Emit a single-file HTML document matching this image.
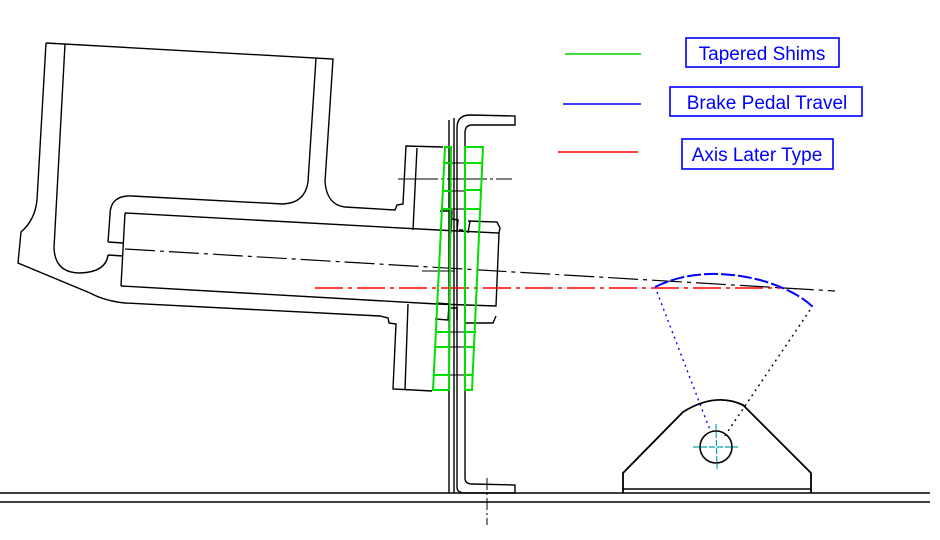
<!DOCTYPE html>
<html><head><meta charset="utf-8"><style>
html,body{margin:0;padding:0;background:#fff;}
svg{display:block;}
text{font-family:"Liberation Sans",sans-serif;font-size:19px;fill:#0000ff;}
</style></head><body>
<svg width="940" height="540" viewBox="0 0 940 540" xmlns="http://www.w3.org/2000/svg">
<rect width="940" height="540" fill="#fff"/>
<g fill="none" stroke="#000" stroke-width="1.4">
<path d="M46,43 L333,59 L325,182 Q327,205 345,207 L395,210 L397,205 L403,204 L406,146 L443,147"/>
<path d="M46,43 L37,200 Q35,220 21,232 L18,263 L90,293 Q105,301 125,303 L380,316 L388,318 L389,323 L396,324 L393,389 L432,391"/>
<path d="M316,58 L308,182 Q305,203 283,204 L132,196 Q110,195 110,215 L108,242"/>
<path d="M65,44 L54,248 Q55,273 80,273 Q106,272 108,255"/>
<path d="M108,242 L123,243 M108,255 L123,256"/>
<path d="M125,213 L438,230 M121,286 L437,304 M125,213 L121,286"/>
<path d="M417,148 L413,230 M408,304 L405,390"/>
<path d="M438,230 L499,233 L496,306 L437,304"/>
<path d="M468,221 L497,222 L500,228 L499,233 M465,306 L465,323 L493,323 L496,316"/>
<path d="M470,221 L468,233"/>
<path d="M440,211 L452,211 L451,233 M436,303 L449,304 L448,320 L435,319"/>
<path d="M452,219 L458,220 L457,231 M459,230 L463,230 M451,308 L457,308 L457,320"/>
<path d="M449,120 L449,493 M454,118 L454,493"/>
<path d="M457,487 L457,128 Q457,115 470,115 L515,116 L515,125 L472,125 Q465,125 465,133 L465,478 Q465,484 472,484 L515,485 L515,493 L465,493 Q457,493 457,487"/>
<path d="M0,493 L930,493 M0,502 L930,502" stroke-width="1.6"/>
<path d="M487,478 L487,525" stroke-width="1" stroke-dasharray="12,3,2,3"/>
<path d="M450,163 L466,163 M450,191 L466,191 M450,209 L466,209 M450,332 L466,332 M450,347 L466,347 M450,375 L466,375" stroke-width="1"/>
<path d="M398,179 L512,179" stroke-width="1" stroke-dasharray="40,3,3,3"/>
<path d="M422,271 L455,271" stroke-width="1"/>
<path d="M125,249 L835,291" stroke-width="1.2" stroke-dasharray="30,5,4,5"/>
<path d="M623,493 L623,473 L683,412 Q715,392 743,405 L811,473 L811,493" stroke-width="1.8"/>
<path d="M623,489 L811,489" stroke-width="1.6"/>
<circle cx="716" cy="447" r="16" stroke-width="1.6"/>
</g>
<path d="M315,288 L782,288" stroke="#ff0000" stroke-width="1.6" stroke-dasharray="28,5,4,5" fill="none"/>
<g fill="none" stroke="#00e000" stroke-width="2">
<path d="M445,147 L451,147 L449,390 L433,390 Z"/>
<path d="M465,147 L483,147 L472,390 L465,390 Z"/>
<path d="M444,163 L450,163 M443,191 L450,191 M442,209 L450,209 M437,332 L449,332 M436,347 L449,347 M434,375 L449,375"/>
<path d="M465,163 L483,163 M465,190 L481,190 M465,209 L480,209 M465,332 L476,332 M465,347 L475,347 M465,375 L473,375"/>
</g>
<path d="M693,447 L738,447 M716,424 L717,469" stroke="#00aaaa" stroke-width="1.2" stroke-dasharray="6,2"/>
<path d="M655,287 Q700,265 760,280 Q795,290 813,307" stroke="#0000ff" stroke-width="2" fill="none" stroke-dasharray="14,3"/>
<path d="M657,292 L710,430" stroke="#0000ff" stroke-width="1.4" stroke-dasharray="2,4" fill="none"/>
<path d="M810,310 L724,437" stroke="#000" stroke-width="1.4" stroke-dasharray="2,4" fill="none"/>
<path d="M565,54 L641,54" stroke="#00d000" stroke-width="1.6"/>
<path d="M563,104 L641,104" stroke="#0000ff" stroke-width="1.4"/>
<path d="M558,152 L638,152" stroke="#ff0000" stroke-width="1.4"/>
<g fill="none" stroke="#0000ff" stroke-width="1.6">
<rect x="686" y="38" width="153" height="29"/>
<rect x="670" y="87" width="192" height="29"/>
<rect x="682" y="139" width="151" height="30"/>
</g>
<text x="762" y="60" text-anchor="middle">Tapered Shims</text>
<text x="767" y="109" text-anchor="middle">Brake Pedal Travel</text>
<text x="757" y="161" text-anchor="middle">Axis Later Type</text>
</svg>
</body></html>
